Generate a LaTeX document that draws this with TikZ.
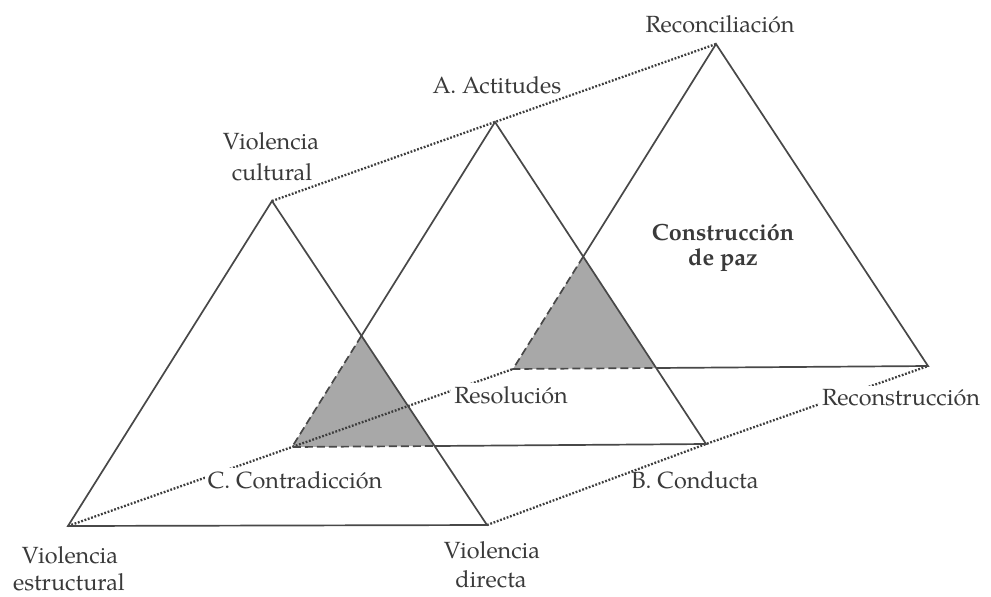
\documentclass[tikz,border=0pt]{standalone}
\usepackage{fontspec}
\setmainfont{texgyrepagella}[Extension=.otf,UprightFont=*-regular,BoldFont=*-bold,ItalicFont=*-italic,BoldItalicFont=*-bolditalic]
\definecolor{ln}{RGB}{72,72,72}
\definecolor{shd}{RGB}{168,168,168}
\definecolor{txt}{RGB}{58,58,58}
\tikzset{
  edge/.style={draw=ln, line width=0.85pt, line join=miter},
  hid/.style={draw=ln, line width=0.85pt, dash pattern=on 4pt off 2pt},
  dots/.style={draw=ln!85!black, line width=1.15pt, dash pattern=on 0.9pt off 0.85pt},
  lbl/.style={text=txt, font=\fontsize{11.7}{14}\selectfont, inner sep=0pt, anchor=base},
  cut/.style={fill=white, inner sep=1.5pt},
}
\begin{document}
\begin{tikzpicture}[x=0.5pt,y=-0.5pt]
\useasboundingbox (0,0) rectangle (991,596);
\fill[white] (0,0) rectangle (991,596);
% vertices
\coordinate (L1) at (68,526);  \coordinate (R1) at (487,525); \coordinate (A1) at (272,201);
\coordinate (L2) at (292,447); \coordinate (R2) at (706,444); \coordinate (A2) at (495,122);
\coordinate (L3) at (513,369); \coordinate (R3) at (928,366); \coordinate (A3) at (716,44);
% overlap points
\coordinate (X1) at (intersection of A2--L2 and A1--R1);
\coordinate (B1) at (intersection of L2--R2 and A1--R1);
\coordinate (X2) at (intersection of A3--L3 and A2--R2);
\coordinate (B2) at (intersection of L3--R3 and A2--R2);
% shaded overlaps
\fill[shd] (X1) -- (L2) -- (B1) -- cycle;
\fill[shd] (X2) -- (L3) -- (B2) -- cycle;
% dotted connectors
\draw[dots] (A1) -- (A2) -- (A3);
\draw[dots] (L1) -- (L2) -- (L3);
\draw[dots] (R1) -- (R2) -- (R3);
% triangles
\draw[edge] (A1) -- (L1) -- (R1) -- cycle;
\draw[edge] (X1) -- (A2) -- (R2) -- (B1);
\draw[hid] (X1) -- (L2) -- (B1);
\draw[edge] (X2) -- (A3) -- (R3) -- (B2);
\draw[hid] (X2) -- (L3) -- (B2);
% labels
\node[lbl] (rec) at (720,32) {Reconciliación};
\node[lbl] (act) at (497,93) {A. Actitudes};
\node[lbl] (vc1) at (271,149) {Violencia};
\node[lbl] (vc2) at (272,180) {cultural};
\node[lbl, font=\fontsize{11.7}{14}\selectfont\bfseries] (cp1) at (723,240) {Construcción};
\node[lbl, font=\fontsize{11.7}{14}\selectfont\bfseries] (cp2) at (723,265) {de paz};
\node[lbl, cut] (res) at (511,403) {Resolución};
\node[lbl, cut] (rcn) at (901,405) {Reconstrucción};
\node[lbl, cut] (con) at (295,488) {C. Contradicción};
\node[lbl] (bco) at (695,488) {B. Conducta};
\node[lbl] (ve1) at (70,563) {Violencia};
\node[lbl] (ve2) at (69,590) {estructural};
\node[lbl] (vd1) at (492,558) {Violencia};
\node[lbl] (vd2) at (491,587) {directa};
\end{tikzpicture}
\end{document}
